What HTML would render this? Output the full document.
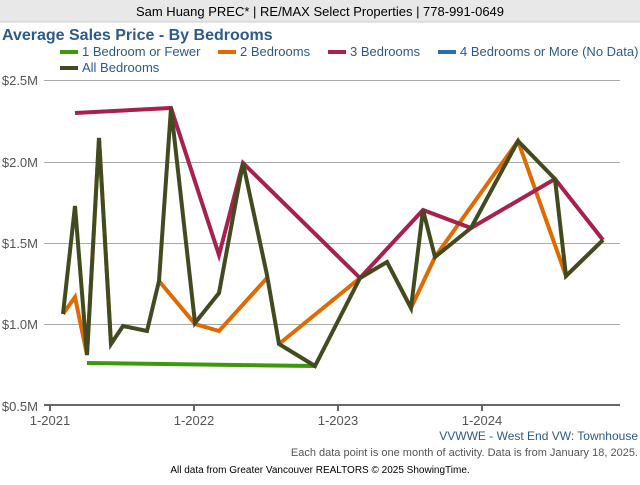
<!DOCTYPE html>
<html><head><meta charset="utf-8"><style>
body{margin:0;width:640px;height:480px;background:#fff;font-family:"Liberation Sans",sans-serif;overflow:hidden}
</style></head><body>
<svg width="640" height="480" xmlns="http://www.w3.org/2000/svg" font-family="Liberation Sans, sans-serif">
<rect x="0" y="0" width="640" height="22" fill="#e8e8e8"/>
<line x1="0" y1="22" x2="640" y2="22" stroke="#ccc"/>
<text x="320" y="16" font-size="13" text-anchor="middle" fill="#000">Sam Huang PREC* | RE/MAX Select Properties | 778-991-0649</text>
<text x="2" y="40" font-size="16" font-weight="bold" fill="#2d5a8c">Average Sales Price - By Bedrooms</text>
<g font-size="13" fill="#2d5a8c">
<rect x="60" y="50" width="18" height="4" fill="#3a9a0a"/><text x="82" y="56">1 Bedroom or Fewer</text>
<rect x="218" y="50" width="18" height="4" fill="#e06a00"/><text x="240" y="56">2 Bedrooms</text>
<rect x="328" y="50" width="18" height="4" fill="#a8204c"/><text x="350" y="56">3 Bedrooms</text>
<rect x="438" y="50" width="18" height="4" fill="#2a70b0"/><text x="460" y="56">4 Bedrooms or More (No Data)</text>
<rect x="60" y="66" width="18" height="4" fill="#414b1f"/><text x="82" y="72">All Bedrooms</text>
</g>
<g stroke="#aaa" stroke-width="1">
<line x1="44" y1="80.5" x2="620" y2="80.5"/><line x1="44" y1="162.5" x2="620" y2="162.5"/>
<line x1="44" y1="243.5" x2="620" y2="243.5"/><line x1="44" y1="324.5" x2="620" y2="324.5"/>
</g>
<line x1="44" y1="405" x2="620" y2="405" stroke="#666" stroke-width="2"/>
<g stroke="#666" stroke-width="2"><line x1="50" y1="405" x2="50" y2="411"/><line x1="194" y1="405" x2="194" y2="411"/><line x1="338" y1="405" x2="338" y2="411"/><line x1="482" y1="405" x2="482" y2="411"/></g>
<g font-size="13" fill="#555" text-anchor="end">
<text x="38" y="85">$2.5M</text><text x="38" y="167">$2.0M</text><text x="38" y="248">$1.5M</text><text x="38" y="329">$1.0M</text><text x="38" y="411">$0.5M</text>
</g>
<g font-size="13" fill="#555" text-anchor="middle">
<text x="50" y="425">1-2021</text><text x="194" y="425">1-2022</text><text x="338" y="425">1-2023</text><text x="482" y="425">1-2024</text>
</g>
<g fill="none" stroke-width="4" stroke-linejoin="miter">
<polyline stroke="#3a9a0a" points="87,363 315,366"/>
<polyline stroke="#e06a00" points="63,314 75,297 87,355 99,138 111,344"/>
<polyline stroke="#e06a00" points="159,281 195,324 219,331 267,278"/>
<polyline stroke="#e06a00" points="279,344 360,278 387,262 411,308 435,257 518,141 566,276 603,240"/>
<polyline stroke="#a8204c" points="75,113 171,108 219,255 243,163 360,278 423,210 471,228 555,179 603,240"/>
<polyline stroke="#414b1f" points="63,314 75,206 87,355 99,138 111,344 123,326 147,331 159,281 171,108 195,323 219,293 243,163 267,275 279,344 315,366 360,278 387,262 411,308 423,210 435,257 471,228 518,141 555,179 566,276 603,240"/>
</g>
<text x="638" y="440" font-size="12" fill="#2d5a8c" text-anchor="end">VVWWE - West End VW: Townhouse</text>
<text x="638" y="456" font-size="11" fill="#555" text-anchor="end">Each data point is one month of activity. Data is from January 18, 2025.</text>
<text x="320" y="473" font-size="10" fill="#000" text-anchor="middle">All data from Greater Vancouver REALTORS © 2025 ShowingTime.</text>
</svg>
</body></html>
